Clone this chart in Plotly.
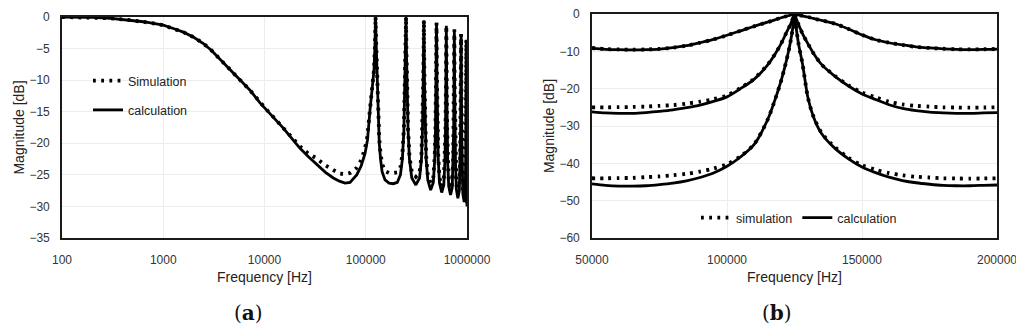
import plotly.graph_objects as go

# ---------------- data: panel (a) ----------------
FREQ_A = [100, 200, 300, 450, 635, 800, 1000, 1300, 1580, 2000, 2490, 3000, 3920, 5000, 6170, 7190,
          9030, 10510, 12500, 15340, 18500, 22430, 27000, 32800, 40000, 47850, 55000, 62400, 70000,
          81400, 90000, 98400, 104000, 110200, 116000, 120600, 123000, 124000, 125000, 126000, 127500,
          130000, 133000, 136000, 140000, 145000, 155000, 170000, 187500, 205000, 220000, 230000,
          238000, 244000, 248000, 250000, 252000, 256000, 262000, 270000, 285000, 312500, 340000,
          355000, 363000, 369000, 373000, 375000, 377000, 381000, 387000, 395000, 410000, 437500,
          465000, 480000, 488000, 494000, 498000, 500000, 502000, 506000, 512000, 520000, 535000,
          562500, 590000, 605000, 613000, 619000, 623000, 625000, 627000, 631000, 637000, 645000,
          660000, 687500, 715000, 730000, 738000, 744000, 748000, 750000, 752000, 756000, 762000,
          770000, 785000, 812500, 840000, 855000, 863000, 869000, 873000, 875000, 877000, 881000,
          887000, 895000, 910000, 937500, 960000, 972000, 980000, 985000, 990000, 995000, 1000000]

CALC_A = [0, -0.05, -0.2, -0.45, -0.75, -1.0, -1.3, -1.9, -2.4, -3.2, -4.2, -5.3, -7.3, -9.0, -10.5, -11.6,
          -13.6, -14.7, -16.1, -17.6, -19.2, -20.8, -22.1, -23.4, -24.6, -25.5, -26.0, -26.3, -26.2,
          -25.0, -23.6, -21.6, -19.5, -14.7, -11.5, -8.4, -5.0, -2.5, 0, -2.5, -5.5,
          -10.5, -16.0, -20.0, -22.5, -24.5, -25.8, -26.3, -26.4, -26.2, -25.0, -22.5,
          -18.0, -11.0, -5.0, 0, -5.0, -11.0, -18.0, -22.5, -25.5, -26.6, -25.5,
          -22.5, -18.0, -11.0, -5.0, -0.5, -5.0, -11.0, -18.0, -22.5, -25.8, -27.4,
          -26.2, -22.5, -18.0, -11.0, -5.0, -0.9, -5.0, -11.0, -18.0, -22.5, -26.3,
          -27.8, -26.6, -22.8, -18.0, -11.0, -5.5, -1.4, -5.5, -11.0, -18.0, -23.0,
          -26.8, -28.2, -27.0, -23.0, -18.0, -11.0, -6.0, -2.0, -6.0, -11.0, -18.0,
          -23.0, -27.3, -28.7, -27.5, -23.5, -18.5, -11.5, -6.5, -2.7, -6.5, -11.5,
          -18.5, -23.5, -28.0, -29.3, -28.5, -22.0, -12.0, -3.6, -14.0, -25.0, -30.0]

SIM_A = [0, -0.05, -0.2, -0.45, -0.75, -1.0, -1.3, -1.9, -2.4, -3.2, -4.2, -5.3, -7.3, -9.0, -10.5, -11.6,
         -13.6, -14.7, -16.0, -17.5, -19.0, -20.5, -21.6, -22.4, -23.5, -24.3, -24.8, -24.9, -24.7,
         -23.9, -22.7, -20.8, -18.8, -14.5, -11.4, -8.4, -5.0, -2.5, 0, -2.5, -5.5,
         -10.4, -15.6, -19.3, -21.6, -23.3, -24.4, -24.7, -24.7, -24.6, -23.8, -21.8,
         -17.7, -11.0, -5.0, 0, -5.0, -11.0, -17.7, -22.0, -24.6, -25.3, -24.6,
         -22.0, -17.8, -11.0, -5.0, -0.5, -5.0, -11.0, -17.8, -22.0, -25.0, -26.3,
         -25.4, -22.0, -17.8, -11.0, -5.0, -0.9, -5.0, -11.0, -17.8, -22.0, -25.5,
         -26.8, -25.9, -22.4, -17.8, -11.0, -5.5, -1.4, -5.5, -11.0, -17.8, -22.5,
         -26.0, -27.3, -26.3, -22.6, -17.8, -11.0, -6.0, -2.0, -6.0, -11.0, -17.8,
         -22.6, -26.5, -27.8, -26.8, -23.0, -18.3, -11.5, -6.5, -2.7, -6.5, -11.5,
         -18.3, -23.0, -27.3, -28.5, -27.9, -21.8, -12.0, -3.6, -14.0, -25.0, -29.8]

XTICKS_A = [100, 1000, 10000, 100000, 1000000]
XTICKTEXT_A = ["100", "1000", "10000", "100000", "1000000"]
YTICKS_A = [0, -5, -10, -15, -20, -25, -30, -35]

# ---------------- data: panel (b) ----------------
FREQ_B = [50000, 55000, 60000, 65000, 70000, 75000, 80000, 85000, 90000, 95000, 100000, 105000,
          110000, 115000, 118000, 120000, 122000, 123500, 124500, 125000, 125500, 126500, 128000,
          130000, 132000, 135000, 140000, 145000, 150000, 155000, 160000, 165000, 170000, 175000,
          180000, 185000, 190000, 195000, 200000]

CALC_B1 = [-9.2, -9.45, -9.55, -9.6, -9.55, -9.4, -9.0, -8.5, -7.7, -6.8, -5.7, -4.5,
           -3.3, -2.2, -1.5, -1.0, -0.6, -0.3, -0.1, 0, -0.1, -0.25, -0.5,
           -0.8, -1.2, -1.7, -2.6, -4.0, -5.6, -6.9, -7.7, -8.3, -8.8, -9.1,
           -9.35, -9.5, -9.55, -9.5, -9.4]
SIM_B1 = [-9.1, -9.4, -9.5, -9.55, -9.5, -9.35, -9.0, -8.5, -7.7, -6.8, -5.7, -4.5,
          -3.3, -2.2, -1.5, -1.0, -0.6, -0.3, -0.1, 0, -0.1, -0.25, -0.5,
          -0.8, -1.2, -1.7, -2.6, -4.0, -5.6, -6.9, -7.7, -8.3, -8.8, -9.1,
          -9.3, -9.45, -9.5, -9.45, -9.35]

CALC_B2 = [-26.2, -26.5, -26.6, -26.6, -26.4, -26.1, -25.7, -25.1, -24.4, -23.4, -22.2, -20.0,
           -17.5, -13.7, -10.5, -8.0, -5.0, -2.8, -1.0, 0, -1.0, -2.8, -5.3,
           -8.0, -10.5, -13.5, -16.7, -19.3, -21.4, -22.9, -24.3, -25.3, -25.9, -26.3,
           -26.5, -26.6, -26.6, -26.5, -26.4]
SIM_B2 = [-25.0, -25.0, -24.95, -24.9, -24.8, -24.6, -24.4, -24.0, -23.5, -22.8, -21.8, -19.8,
          -17.4, -13.6, -10.5, -8.0, -5.0, -2.8, -1.0, 0, -1.0, -2.8, -5.3,
          -8.0, -10.5, -13.5, -16.6, -19.1, -21.0, -22.3, -23.5, -24.2, -24.6, -24.8,
          -25.0, -25.05, -25.1, -25.05, -25.0]

CALC_B3 = [-45.5, -45.9, -46.1, -46.1, -46.0, -45.7, -45.3, -44.7, -43.8, -42.6, -40.8, -38.3,
           -35.0, -28.4, -22.5, -18.0, -12.5, -7.5, -3.0, 0, -3.0, -8.0, -13.5,
           -22.5, -27.5, -32.0, -36.0, -38.8, -41.0, -42.5, -43.7, -44.6, -45.2, -45.6,
           -45.9, -46.0, -46.0, -45.9, -45.8]
SIM_B3 = [-44.0, -44.0, -43.95, -43.9, -43.7, -43.5, -43.2, -42.8, -42.2, -41.4, -40.2, -38.1,
          -34.9, -28.4, -22.5, -18.0, -12.5, -7.5, -3.0, 0, -3.0, -8.0, -13.5,
          -22.5, -27.4, -31.8, -35.7, -38.5, -40.5, -41.7, -42.6, -43.2, -43.6, -43.8,
          -44.0, -44.05, -44.1, -44.05, -44.0]

XTICKS_B = [50000, 100000, 150000, 200000]
XTICKTEXT_B = ["50000", "100000", "150000", "200000"]
YTICKS_B = [0, -10, -20, -30, -40, -50, -60]

# ---------------- style ----------------
PAGE_OFF = 8          # browser default body margin
W, H = 1024 - PAGE_OFF, 335 - PAGE_OFF
BLACK = "#000000"
GRID = "#ececec"
TICKCOL = "#333333"
FONT = "Liberation Sans, Arial, sans-serif"
CALC_W = 2.8
SIM_W = 3.8
SIM_DASH = "2.8px,5.4px"

def px_x(p):
    return (p - PAGE_OFF) / W

def px_y(p):
    return 1 - (p - PAGE_OFF) / H

fig = go.Figure()

# panel (a)
fig.add_trace(go.Scatter(x=FREQ_A, y=CALC_A, mode="lines", name="calculation",
                         line=dict(color=BLACK, width=CALC_W), xaxis="x", yaxis="y",
                         legend="legend", legendrank=2, legendgroup="c"))
fig.add_trace(go.Scatter(x=FREQ_A, y=SIM_A, mode="lines", name="Simulation",
                         line=dict(color=BLACK, width=SIM_W, dash=SIM_DASH), xaxis="x", yaxis="y",
                         legend="legend", legendrank=1, legendgroup="s"))

# panel (b)
for i, (c, s) in enumerate([(CALC_B1, SIM_B1), (CALC_B2, SIM_B2), (CALC_B3, SIM_B3)]):
    fig.add_trace(go.Scatter(x=FREQ_B, y=c, mode="lines", name="calculation",
                             line=dict(color=BLACK, width=CALC_W, shape="spline", smoothing=0.8),
                             xaxis="x2", yaxis="y2", legend="legend2", legendrank=2,
                             showlegend=(i == 0)))
    fig.add_trace(go.Scatter(x=FREQ_B, y=s, mode="lines", name="simulation",
                             line=dict(color=BLACK, width=SIM_W, dash=SIM_DASH, shape="spline", smoothing=0.8),
                             xaxis="x2", yaxis="y2", legend="legend2", legendrank=1,
                             showlegend=(i == 0)))

axis_common = dict(showline=True, linecolor="#1a1a1a", linewidth=1.6, mirror=True, automargin=False,
                   showgrid=True, gridcolor=GRID, gridwidth=1, zeroline=False, ticks="",
                   ticklabeloverflow="allow",
                   tickfont=dict(family=FONT, size=12, color=TICKCOL),
                   title_font=dict(family=FONT, size=14, color="#222222"))

fig.update_layout(
    width=W, height=H,
    margin=dict(l=0, r=0, t=0, b=0),
    paper_bgcolor="white", plot_bgcolor="white",
    font=dict(family=FONT, color="#222222"),
    xaxis=dict(axis_common, type="log", range=[2, 6], domain=[px_x(62), px_x(467)],
               tickvals=XTICKS_A, ticktext=XTICKTEXT_A, anchor="y",
               title=dict(text="Frequency [Hz]", standoff=6), ticklabelstandoff=10),
    yaxis=dict(axis_common, range=[-35, 0], domain=[px_y(238), px_y(17)], tickvals=YTICKS_A,
               anchor="x", title=dict(text="Magnitude [dB]", standoff=2), ticklabelstandoff=8),
    xaxis2=dict(axis_common, range=[50000, 200000], domain=[px_x(592), px_x(997)],
                tickvals=XTICKS_B, ticktext=XTICKTEXT_B, anchor="y2",
                title=dict(text="Frequency [Hz]", standoff=6), ticklabelstandoff=10),
    yaxis2=dict(axis_common, range=[-60, 0], domain=[px_y(238), px_y(14)], tickvals=YTICKS_B,
                anchor="x2", title=dict(text="Magnitude [dB]", standoff=2), ticklabelstandoff=8),
    legend=dict(x=px_x(88), y=px_y(66), xanchor="left", yanchor="top", bgcolor="rgba(0,0,0,0)",
                font=dict(family=FONT, size=12.5, color="#222222"), tracegroupgap=10,
                itemwidth=30, traceorder="grouped"),
    legend2=dict(x=px_x(696), y=px_y(218), xanchor="left", yanchor="middle", orientation="h",
                 bgcolor="rgba(0,0,0,0)", font=dict(family=FONT, size=12.5, color="#222222"),
                 itemwidth=30),
    showlegend=True,
    annotations=[
        dict(text="(<b>a</b>)", x=px_x(248), y=px_y(313), xref="paper", yref="paper",
             xanchor="center", yanchor="middle", showarrow=False,
             font=dict(family="DejaVu Serif, Liberation Serif, serif", size=20, color="#111111")),
        dict(text="(<b>b</b>)", x=px_x(777), y=px_y(313), xref="paper", yref="paper",
             xanchor="center", yanchor="middle", showarrow=False,
             font=dict(family="DejaVu Serif, Liberation Serif, serif", size=20, color="#111111")),
    ],
)

fig.write_html("out.html")
